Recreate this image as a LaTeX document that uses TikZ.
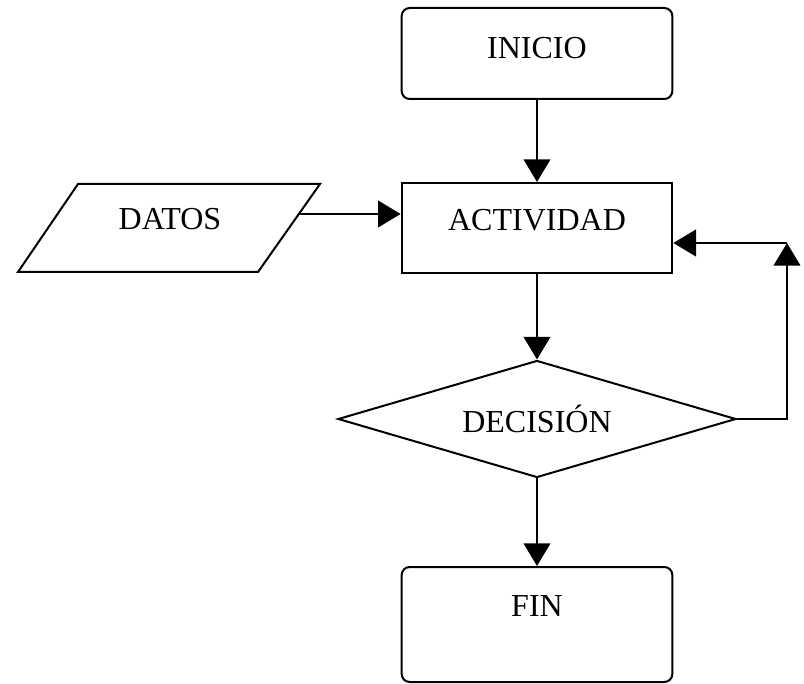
\documentclass[tikz,border=0pt]{standalone}
\usepackage{fontspec}
\setmainfont{Liberation Serif}
\usetikzlibrary{shapes.geometric,arrows.meta}

\tikzset{every picture/.style={line width=1.5pt}}
\tikzset{
  caja/.style={draw, rounded corners=6pt, minimum width=203pt, inner sep=0pt},
  proceso/.style={draw, minimum width=203pt, minimum height=67.5pt, inner sep=0pt},
  rombo/.style={draw, diamond, aspect=3.4, minimum width=298.5pt, minimum height=87.75pt, inner sep=0pt, font=\fontsize{24}{28}\selectfont},
  texto/.style={inner sep=0pt, font=\fontsize{24}{28}\selectfont},
  flecha/.style={-{Triangle[length=17pt,width=20pt]}}
}

\begin{document}
\begin{tikzpicture}[x=0.75pt,y=0.75pt,yscale=-1,xscale=1]
\useasboundingbox (0,0) rectangle (804,684);

% cajas
\node [caja, minimum height=68.25pt] (inicio) at (537,53.5) {};
\node [proceso] (actividad) at (537,228) {};
\node [rombo] (decision) at (537,419) {DECISIÓN};
\node [caja, minimum height=86.25pt] (fin) at (537,624.5) {};

% datos
\draw  (78,184) -- (320,184) -- (258,272) -- (18,272) -- cycle ;
\coordinate (datossal) at (299,214);
\coordinate (retorno) at (787,243);

% textos
\node [texto] (tinicio) at ([yshift=-4pt]inicio.center) {INICIO};
\node [texto] (tactividad) at ([yshift=-6pt]actividad.center) {ACTIVIDAD};
\node [texto] (tfin) at ([yshift=-14pt]fin.center) {FIN};
\node [texto] (tdatos) at (170,219) {DATOS};

% flechas
\draw [flecha] (inicio.south) -- (actividad.north);
\draw [flecha] (datossal) -- (datossal -| actividad.west);
\draw [flecha] (actividad.south) -- (decision.north);
\draw [flecha] (decision.south) -- (fin.north);
\draw [flecha] (decision.east) -| (retorno);
\draw [flecha] (retorno) -- (retorno -| actividad.east);

\end{tikzpicture}
\end{document}
